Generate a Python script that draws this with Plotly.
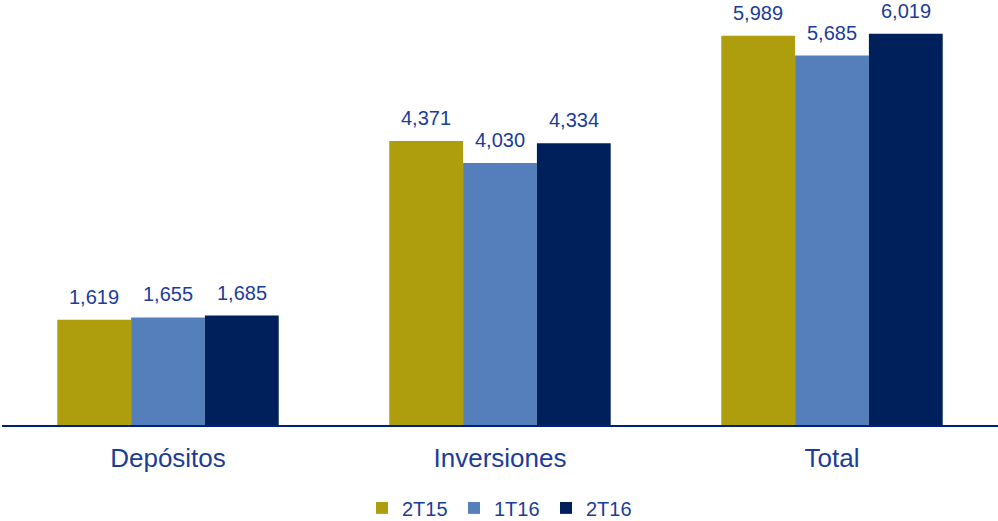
import plotly.graph_objects as go

categories = ["Depósitos", "Inversiones", "Total"]
series_names = ["2T15", "1T16", "2T16"]
v_2t15 = [1619, 4371, 5989]
v_1t16 = [1655, 4030, 5685]
v_2t16 = [1685, 4334, 6019]

COLORS = ["#AE9D0C", "#557FBA", "#00205B"]
TEXT = "#1B3C98"
FONT = "Liberation Sans, Arial"
GAP = 0.333
BW = (1 - GAP) / 3

fig = go.Figure()
for k, (name, vals, col) in enumerate(zip(series_names, [v_2t15, v_1t16, v_2t16], COLORS)):
    fig.add_trace(go.Bar(
        x=categories, y=vals, name=name, marker=dict(color=col, line_width=0),
    ))
    for i, v in enumerate(vals):
        fig.add_annotation(
            x=i + (k - 1) * BW, y=v, text=f"{v:,}", showarrow=False,
            yanchor="bottom", yshift=10,
            font=dict(size=20, color=TEXT, family=FONT),
        )

fig.update_layout(
    width=998, height=521,
    paper_bgcolor="white", plot_bgcolor="white",
    margin=dict(l=2, r=0, t=0, b=96, autoexpand=False),
    barmode="group", bargap=GAP, bargroupgap=0,
    font=dict(family=FONT, color=TEXT),
    showlegend=True,
    legend=dict(orientation="h", x=0.5, xanchor="center", y=-0.195, yanchor="middle",
                font=dict(size=20, color=TEXT), itemwidth=30, traceorder="normal",
                entrywidth=47),
)
fig.update_xaxes(showline=True, linecolor="#00207A", linewidth=2, ticks="",
                 tickfont=dict(size=26, color=TEXT), ticklabelstandoff=9,
                 automargin=False)
fig.update_yaxes(visible=False, range=[0, 6540], automargin=False)

# page body has a default 8px margin; drop it so the figure fills the window
fig.write_html(
    "out.html",
    config={"displayModeBar": False},
    post_script="document.body.style.margin='0';"
                "Plotly.relayout('{plot_id}', {width: 998, height: 521});",
)
